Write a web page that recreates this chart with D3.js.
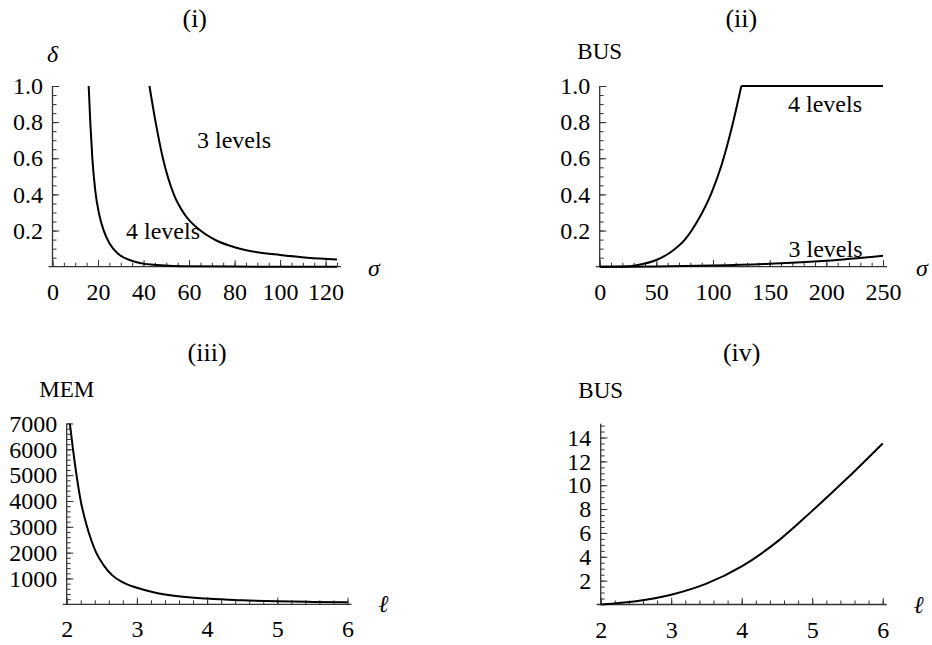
<!DOCTYPE html>
<html>
<head>
<meta charset="utf-8">
<script src="https://cdn.jsdelivr.net/npm/d3@7"></script>
<style>
  body { margin: 0; background: #fff; }
  svg text { font-family: "Liberation Serif", "Times New Roman", serif; fill: #000; }
  .tick line { stroke: #333; stroke-width: 1; }
</style>
</head>
<body>
<svg id="chart" width="932" height="645" font-family="Liberation Serif, serif"></svg>
<script>
// values

// (i) delta vs sigma
var p1Sigma4 = [15.9, 16.6, 17.5, 18.8, 20.5, 22.5, 25, 29, 35, 43, 57, 80, 125];
var p1Delta4 = [1.0, 0.8, 0.6, 0.42, 0.29, 0.2, 0.13, 0.07, 0.032, 0.012, 0.003, 0.0005, 0.0];
var p1Sigma3 = [42.6, 45.3, 48.5, 53.3, 58, 65, 72, 80, 90, 100, 112, 125];
var p1Delta3 = [1.0, 0.8, 0.6, 0.4, 0.29, 0.2, 0.145, 0.108, 0.08, 0.065, 0.05, 0.04];

// (ii) BUS vs sigma (4 levels rises to 1 at sigma = 125, then stays flat)
var p2Sigma4 = [0, 20, 33.8, 50, 63.2, 75, 86.8, 98.5, 107.4, 116.2, 125];
var p2Bus4 = [0, 0.001, 0.01, 0.037, 0.083, 0.148, 0.258, 0.406, 0.56, 0.76, 1.0];
var p2Sigma4Flat = [125, 250];
var p2Bus4Flat = [1.0, 1.0];
var p2Sigma3 = [0, 50, 100, 150, 200, 250];
var p2Bus3 = [0, 0.001, 0.006, 0.016, 0.033, 0.061];

// (iii) MEM vs l
var p3L = [2.045, 2.09, 2.14, 2.2, 2.29, 2.42, 2.53, 2.65, 2.8, 3.0, 3.25, 3.5, 4.0, 4.5, 5.0, 5.5, 6.0];
var p3Mem = [7000, 6000, 5000, 4000, 3000, 2000, 1500, 1120, 850, 640, 460, 345, 220, 155, 115, 92, 75];

// (iv) BUS vs l
var p4L = [2, 2.5, 3, 3.5, 4, 4.5, 5, 5.5, 6];
var p4Bus = [0, 0.27, 0.82, 1.75, 3.2, 5.25, 7.85, 10.6, 13.5];

var titles = ["(i)", "(ii)", "(iii)", "(iv)"];

var svg = d3.select("#chart");
var SERIF = "Liberation Serif, Times New Roman, serif";

function zip(xs, ys) {
  return xs.map(function(v, i) { return [v, ys[i]]; });
}

function cleanAxis(s) {
  s.select(".domain").remove();
  s.attr("font-family", SERIF).attr("font-size", 24);
}

function drawPanel(cfg) {
  var x = d3.scaleLinear().domain(cfg.xDomain).range(cfg.xRange);
  var y = d3.scaleLinear().domain(cfg.yDomain).range(cfg.yRange);
  var g = svg.append("g");
  var y0 = cfg.yRange[0];
  var x0 = cfg.xRange[0];

  // minor ticks
  g.append("g")
    .attr("transform", "translate(0," + y0 + ")")
    .call(d3.axisBottom(x).tickValues(cfg.xMinor).tickSize(-4).tickSizeOuter(0).tickFormat(""))
    .call(cleanAxis);
  g.append("g")
    .attr("transform", "translate(" + x0 + ",0)")
    .call(d3.axisLeft(y).tickValues(cfg.yMinor).tickSize(-4).tickSizeOuter(0).tickFormat(""))
    .call(cleanAxis);

  // major ticks + labels
  g.append("g")
    .attr("transform", "translate(0," + y0 + ")")
    .call(d3.axisBottom(x).tickValues(cfg.xMajor).tickSize(-6.7).tickSizeOuter(0)
      .tickPadding(16).tickFormat(cfg.xFormat))
    .call(cleanAxis);
  g.append("g")
    .attr("transform", "translate(" + x0 + ",0)")
    .call(d3.axisLeft(y).tickValues(cfg.yMajor).tickSize(-6.7).tickSizeOuter(0)
      .tickPadding(9.5).tickFormat(cfg.yFormat))
    .call(cleanAxis);

  // axis lines
  g.append("line")
    .attr("x1", cfg.xRange[0] - 4).attr("x2", cfg.xRange[1] + 4)
    .attr("y1", y0).attr("y2", y0)
    .attr("stroke", "#333").attr("stroke-width", 1.3);
  g.append("line")
    .attr("x1", x0).attr("x2", x0)
    .attr("y1", y0).attr("y2", cfg.yRange[1])
    .attr("stroke", "#333").attr("stroke-width", 1.3);

  var smooth = d3.line()
    .x(function(d) { return x(d[0]); })
    .y(function(d) { return y(d[1]); })
    .curve(d3.curveMonotoneX);
  var straight = d3.line()
    .x(function(d) { return x(d[0]); })
    .y(function(d) { return y(d[1]); });

  cfg.series.forEach(function(s) {
    g.append("path")
      .datum(s.data)
      .attr("fill", "none")
      .attr("stroke", "#000")
      .attr("stroke-width", 2)
      .attr("stroke-linejoin", "miter")
      .attr("d", s.linear ? straight : smooth);
  });

  // title
  g.append("text")
    .attr("x", (cfg.xRange[0] + cfg.xRange[1]) / 2)
    .attr("y", cfg.titleY)
    .attr("text-anchor", "middle")
    .attr("font-size", 26)
    .text(cfg.title);

  // y label
  g.append("text")
    .attr("x", x0)
    .attr("y", cfg.yLabelY)
    .attr("text-anchor", "middle")
    .attr("font-size", cfg.yLabelItalic ? 24 : 23)
    .attr("font-style", cfg.yLabelItalic ? "italic" : "normal")
    .text(cfg.yLabel);

  // x label
  g.append("text")
    .attr("x", cfg.xRange[1] + cfg.xLabelGap)
    .attr("y", y0 + cfg.xLabelDy)
    .attr("font-size", 24)
    .attr("font-style", "italic")
    .text(cfg.xLabel);

  (cfg.notes || []).forEach(function(n) {
    g.append("text")
      .attr("x", n.x).attr("y", n.y)
      .attr("font-size", 24)
      .text(n.text);
  });
}

var fmtInt = d3.format("d");
var fmt1 = d3.format(".1f");

drawPanel({
  title: titles[0], titleY: 27,
  xDomain: [0, 125], xRange: [52.5, 337],
  yDomain: [0, 1], yRange: [266.7, 86],
  xMajor: d3.range(0, 121, 20), xMinor: d3.range(0, 126, 5), xFormat: fmtInt,
  yMajor: [0.2, 0.4, 0.6, 0.8, 1.0], yMinor: d3.range(0.05, 1.001, 0.05), yFormat: fmt1,
  yLabel: "δ", yLabelY: 62, yLabelItalic: true,
  xLabel: "σ", xLabelGap: 31, xLabelDy: 9,
  series: [{ data: zip(p1Sigma4, p1Delta4) }, { data: zip(p1Sigma3, p1Delta3) }],
  notes: [{ text: "3 levels", x: 197, y: 148 }, { text: "4 levels", x: 126, y: 239 }]
});

drawPanel({
  title: titles[1], titleY: 27,
  xDomain: [0, 250], xRange: [599.7, 883],
  yDomain: [0, 1], yRange: [266.7, 86],
  xMajor: d3.range(0, 251, 50), xMinor: d3.range(0, 251, 10), xFormat: fmtInt,
  yMajor: [0.2, 0.4, 0.6, 0.8, 1.0], yMinor: d3.range(0.05, 1.001, 0.05), yFormat: fmt1,
  yLabel: "BUS", yLabelY: 59,
  xLabel: "σ", xLabelGap: 33, xLabelDy: 9,
  series: [
    { data: zip(p2Sigma4, p2Bus4) },
    { data: zip(p2Sigma4Flat, p2Bus4Flat), linear: true },
    { data: zip(p2Sigma3, p2Bus3) }
  ],
  notes: [{ text: "4 levels", x: 788, y: 112 }, { text: "3 levels", x: 788.5, y: 257 }]
});

drawPanel({
  title: titles[2], titleY: 361,
  xDomain: [2, 6], xRange: [66.7, 347.5],
  yDomain: [0, 7000], yRange: [604.3, 423.5],
  xMajor: [2, 3, 4, 5, 6], xMinor: d3.range(2, 6.001, 0.2), xFormat: fmtInt,
  yMajor: d3.range(1000, 7001, 1000), yMinor: d3.range(200, 7001, 200), yFormat: fmtInt,
  yLabel: "MEM", yLabelY: 397,
  xLabel: "ℓ", xLabelGap: 31, xLabelDy: 8,
  series: [{ data: zip(p3L, p3Mem) }]
});

drawPanel({
  title: titles[3], titleY: 361,
  xDomain: [2, 6], xRange: [600.7, 882.7],
  yDomain: [0, 15.15], yRange: [604.5, 423.8],
  xMajor: [2, 3, 4, 5, 6], xMinor: d3.range(2, 6.001, 0.2), xFormat: fmtInt,
  yMajor: d3.range(2, 15, 2), yMinor: d3.range(0.5, 15.01, 0.5), yFormat: fmtInt,
  yLabel: "BUS", yLabelY: 398,
  xLabel: "ℓ", xLabelGap: 31, xLabelDy: 8,
  series: [{ data: zip(p4L, p4Bus) }]
});
</script>
</body>
</html>
